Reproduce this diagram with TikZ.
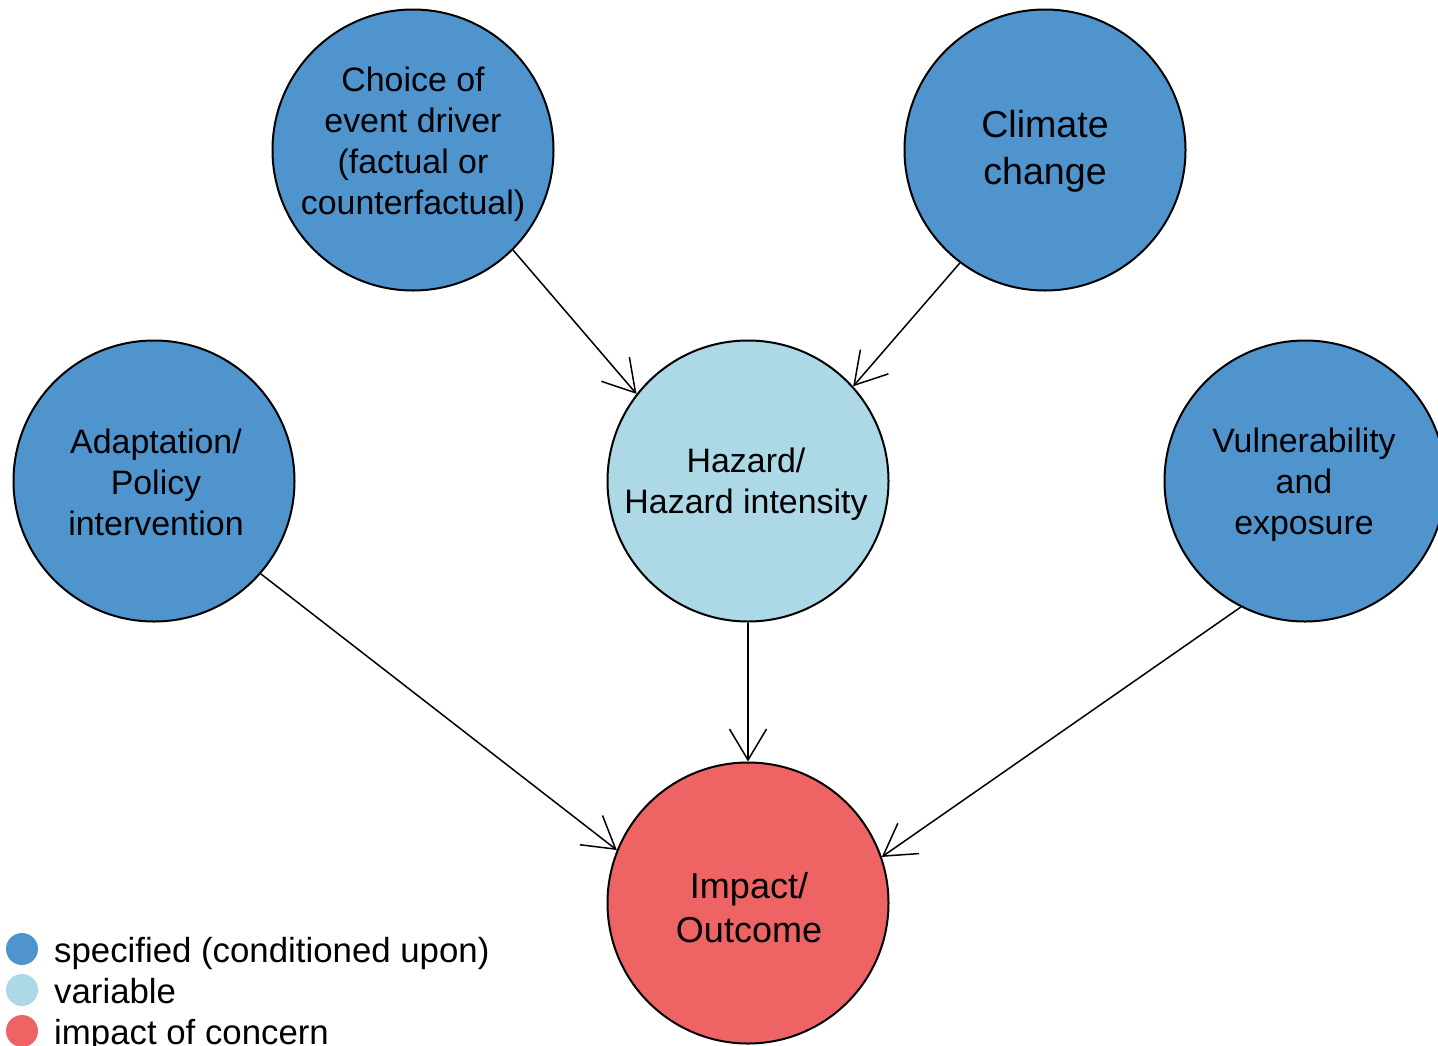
\documentclass[tikz,border=0pt]{standalone}
\usepackage{fontspec}
\setmainfont{Liberation Sans}
\usetikzlibrary{arrows.meta}
\definecolor{specblue}{RGB}{80,148,206}
\definecolor{varblue}{RGB}{173,216,230}
\definecolor{impred}{RGB}{238,99,100}
\tikzset{
  bubble/.style={circle, draw=black, line width=2pt, minimum size=281pt, inner sep=0pt},
  spec/.style={bubble, fill=specblue},
  var/.style={bubble, fill=varblue},
  imp/.style={bubble, fill=impred},
  txt/.style={align=center, text=black, inner sep=0pt},
  small/.style={font=\fontsize{33.9}{41}\selectfont},
  big/.style={font=\fontsize{37.6}{47}\selectfont},
  link/.style={line width=1.5pt, -{Straight Barb[length=31pt, width=37pt, line width=1.5pt]}},
  dot/.style={circle, inner sep=0pt, minimum size=32pt},
  legtxt/.style={anchor=base west, inner sep=0pt, font=\fontsize{34.8}{41}\selectfont}
}
\begin{document}
\begin{tikzpicture}[x=1pt, y=1pt]
\useasboundingbox (0,0) rectangle (1438,-1045);

% causal nodes
\node[spec] (choice) at (413,-150) {};
\node[spec] (climate) at (1045,-150) {};
\node[spec] (adapt) at (154,-481) {};
\node[var]  (hazard) at (748,-481) {};
\node[spec] (vuln) at (1305,-481) {};
\node[imp]  (impact) at (748,-903) {};

% node captions
\node[txt, small] (choiceTxt) at (413,-144) {Choice of\\event driver\\(factual or\\counterfactual)};
\node[txt, big] (climateTxt) at (1045,-151) {Climate\\change};
\node[txt, small] (adaptTxt) at (156,-482) {Adaptation/\\Policy\\intervention};
\node[txt, small] (hazardTxt) at (746,-484) {Hazard/\\Hazard intensity};
\node[txt, small] (vulnTxt) at (1304,-485) {Vulnerability\\and\\exposure};
\node[txt, font=\fontsize{36}{44}\selectfont] (impactTxt) at (749,-908) {Impact/\\Outcome};

% dependencies
\draw[link] (choice.-45.3) -- (hazard.142.3);
\draw[link] (climate.-127.8) -- (hazard.42.1);
\draw[link] (hazard.south) -- (impact.north);
\draw[link] (adapt.-41.1) -- (impact.158.7);
\draw[link] (vuln.-117.5) -- (impact.19.2);

% legend
\node[dot, fill=specblue] (legSpec) at (22,-949) {};
\node[dot, fill=varblue] (legVar) at (22,-990) {};
\node[dot, fill=impred] (legImp) at (22,-1031) {};
\node[legtxt] (legSpecTxt) at (54,-962) {specified (conditioned upon)};
\node[legtxt] (legVarTxt) at (54,-1003) {variable};
\node[legtxt] (legImpTxt) at (54,-1044) {impact of concern};
\end{tikzpicture}
\end{document}
